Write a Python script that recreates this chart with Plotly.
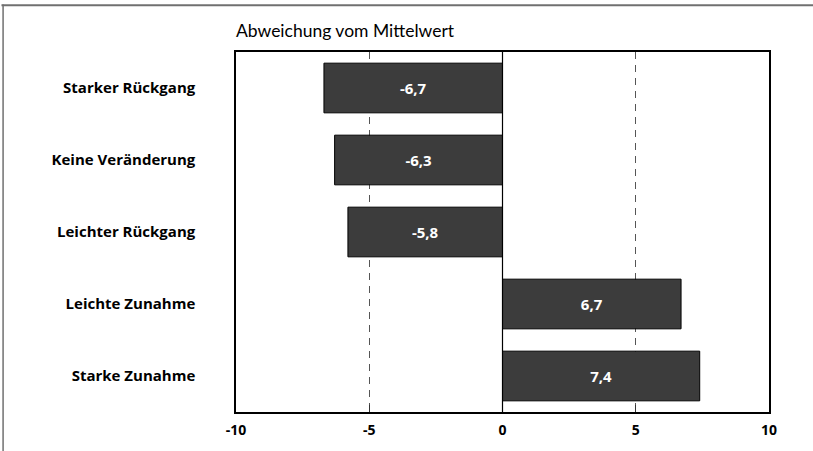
import plotly.graph_objects as go

categories = ['Starker Rückgang', 'Keine Veränderung', 'Leichter Rückgang',
              'Leichte Zunahme', 'Starke Zunahme']
values = [-6.7, -6.3, -5.8, 6.7, 7.4]
tick_vals = [-10, -5, 0, 5, 10]
tick_text = ['-10', '-5', '0', '5', '10']

labels = [('%.1f' % v).replace('.', ',') for v in values]

fig = go.Figure(go.Bar(
    x=values,
    y=categories,
    orientation='h',
    width=0.69,
    marker=dict(color='#3c3c3c', line=dict(color='#000000', width=1)),
    text=labels,
    textposition='inside',
    insidetextanchor='middle',
    textfont=dict(family='Open Sans', size=15, color='white', weight='bold'),
))

fig.update_layout(
    width=813, height=451,
    margin=dict(l=236, r=44, t=52, b=37),
    paper_bgcolor='white',
    plot_bgcolor='white',
    showlegend=False,
    shapes=[
        dict(type='line', xref='paper', yref='paper', x0=-0.44, x1=1.1, y0=1.13, y1=1.13,
             line=dict(color='#707070', width=2)),
        dict(type='line', xref='paper', yref='paper', x0=-0.437, x1=-0.437, y0=1.132, y1=-0.12,
             line=dict(color='#707070', width=1.5)),
        dict(type='line', xref='x', yref='paper', x0=0, x1=0, y0=0, y1=1,
             line=dict(color='black', width=1.2)),
    ],
    annotations=[
        dict(text='Abweichung vom Mittelwert', xref='paper', yref='paper', x=0, y=1.026,
             xanchor='left', yanchor='bottom', showarrow=False, xshift=-2,
             font=dict(family='Lato', size=17.5, color='black')),
    ],
)

fig.update_xaxes(
    range=[-10, 10],
    tickvals=tick_vals,
    ticktext=tick_text,
    ticks='inside', ticklen=7, tickcolor='#333333', tickwidth=1,
    showgrid=True, gridcolor='#555555', griddash='7px,6px', gridwidth=1,
    zeroline=False,
    showline=True, linecolor='black', linewidth=1.5, mirror=True,
    tickfont=dict(family='Open Sans', size=14, color='black', weight='bold'),
    ticklabelstandoff=4,
)

fig.update_yaxes(
    autorange='reversed',
    showgrid=False,
    showline=True, linecolor='black', linewidth=1.5, mirror=True,
    ticks='',
    tickfont=dict(family='Open Sans', size=15, color='black', weight='bold'),
    ticklabelstandoff=36,
)

fig.write_html('out.html', config={'displayModeBar': False},
               post_script="document.body.style.margin='0';")
